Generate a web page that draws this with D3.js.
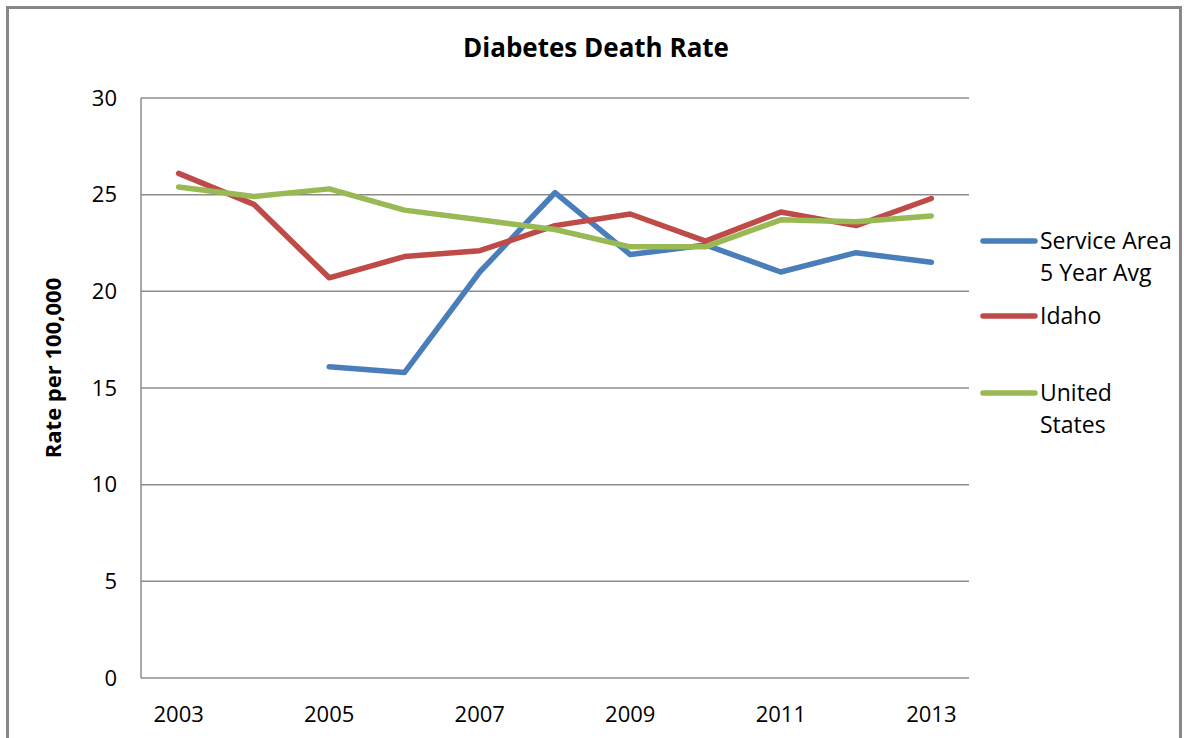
<!DOCTYPE html>
<html><head><meta charset="utf-8">
<script src="https://cdn.jsdelivr.net/npm/d3@7"></script>
<style>body{margin:0;background:#fff;}svg{display:block;font-family:"Open Sans",sans-serif;}</style>
</head><body><svg id="c" width="1184" height="738"></svg>
<script>
const years = ["2003","2004","2005","2006","2007","2008","2009","2010","2011","2012","2013"];
const tickYears = ["2003","2005","2007","2009","2011","2013"];
const serviceArea = [null,null,16.1,15.8,21.0,25.1,21.9,22.4,21.0,22.0,21.5];
const idaho = [26.1,24.5,20.7,21.8,22.1,23.4,24.0,22.6,24.1,23.4,24.8];
const unitedStates = [25.4,24.9,25.3,24.2,23.7,23.2,22.3,22.3,23.7,23.6,23.9];
const seriesNames = [["Service Area","5 Year Avg"],["Idaho"],["United","States"]];
const colors = ["#4A7EBB","#BE4B48","#98B954"];
const yTicks = [0,5,10,15,20,25,30];

const svg = d3.select("#c");
svg.append("rect").attr("x",7.5).attr("y",7.5).attr("width",1173).attr("height",760)
  .attr("fill","none").attr("stroke","#888").attr("stroke-width",3);

const L=141,R=969,T=98,B=678;
const x = d3.scaleBand().domain(years).range([L,R]);
const y = d3.scaleLinear().domain([0,30]).range([B,T]);

// gridlines
svg.append("g").selectAll("line").data(yTicks).join("line")
  .attr("x1",L).attr("x2",R).attr("y1",d=>y(d)).attr("y2",d=>y(d))
  .attr("stroke","#8c8c8c").attr("stroke-width",1.5);
svg.append("line").attr("x1",L).attr("x2",L).attr("y1",T).attr("y2",B)
  .attr("stroke","#8c8c8c").attr("stroke-width",1.5);

// y labels
svg.append("g").selectAll("text").data(yTicks).join("text")
  .attr("x",117).attr("y",d=>y(d)).attr("dy","0.35em").attr("text-anchor","end")
  .attr("font-size",22).text(d=>d);
// x labels
svg.append("g").selectAll("text").data(tickYears).join("text")
  .attr("x",d=>x(d)+x.bandwidth()/2).attr("y",722).attr("text-anchor","middle")
  .attr("font-size",22).text(d=>d);

svg.append("text").attr("x",596).attr("y",57).attr("text-anchor","middle")
  .attr("font-size",26).attr("font-weight","bold").text("Diabetes Death Rate");
svg.append("text").attr("transform","translate(61,368) rotate(-90)").attr("text-anchor","middle")
  .attr("font-size",22).attr("font-weight","bold").text("Rate per 100,000");

const line = d3.line().defined(d=>d.v!=null).x(d=>x(d.k)+x.bandwidth()/2).y(d=>y(d.v));
[serviceArea,idaho,unitedStates].forEach((s,i)=>{
  svg.append("path").datum(years.map((k,j)=>({k,v:s[j]})))
    .attr("d",line).attr("fill","none").attr("stroke",colors[i]).attr("stroke-width",5.5)
    .attr("stroke-linecap","round").attr("stroke-linejoin","round");
});

// legend
const legY=[241,316,393];
seriesNames.forEach((n,i)=>{
  svg.append("line").attr("x1",983).attr("x2",1035).attr("y1",legY[i]).attr("y2",legY[i])
    .attr("stroke",colors[i]).attr("stroke-width",5.5).attr("stroke-linecap","round");
  const t=svg.append("text").attr("x",1040).attr("y",legY[i]).attr("font-size",23);
  n.forEach((s,j)=>t.append("tspan").attr("x",1040).attr("dy",j==0?"0.35em":"32px").text(s));
});
</script></body></html>
